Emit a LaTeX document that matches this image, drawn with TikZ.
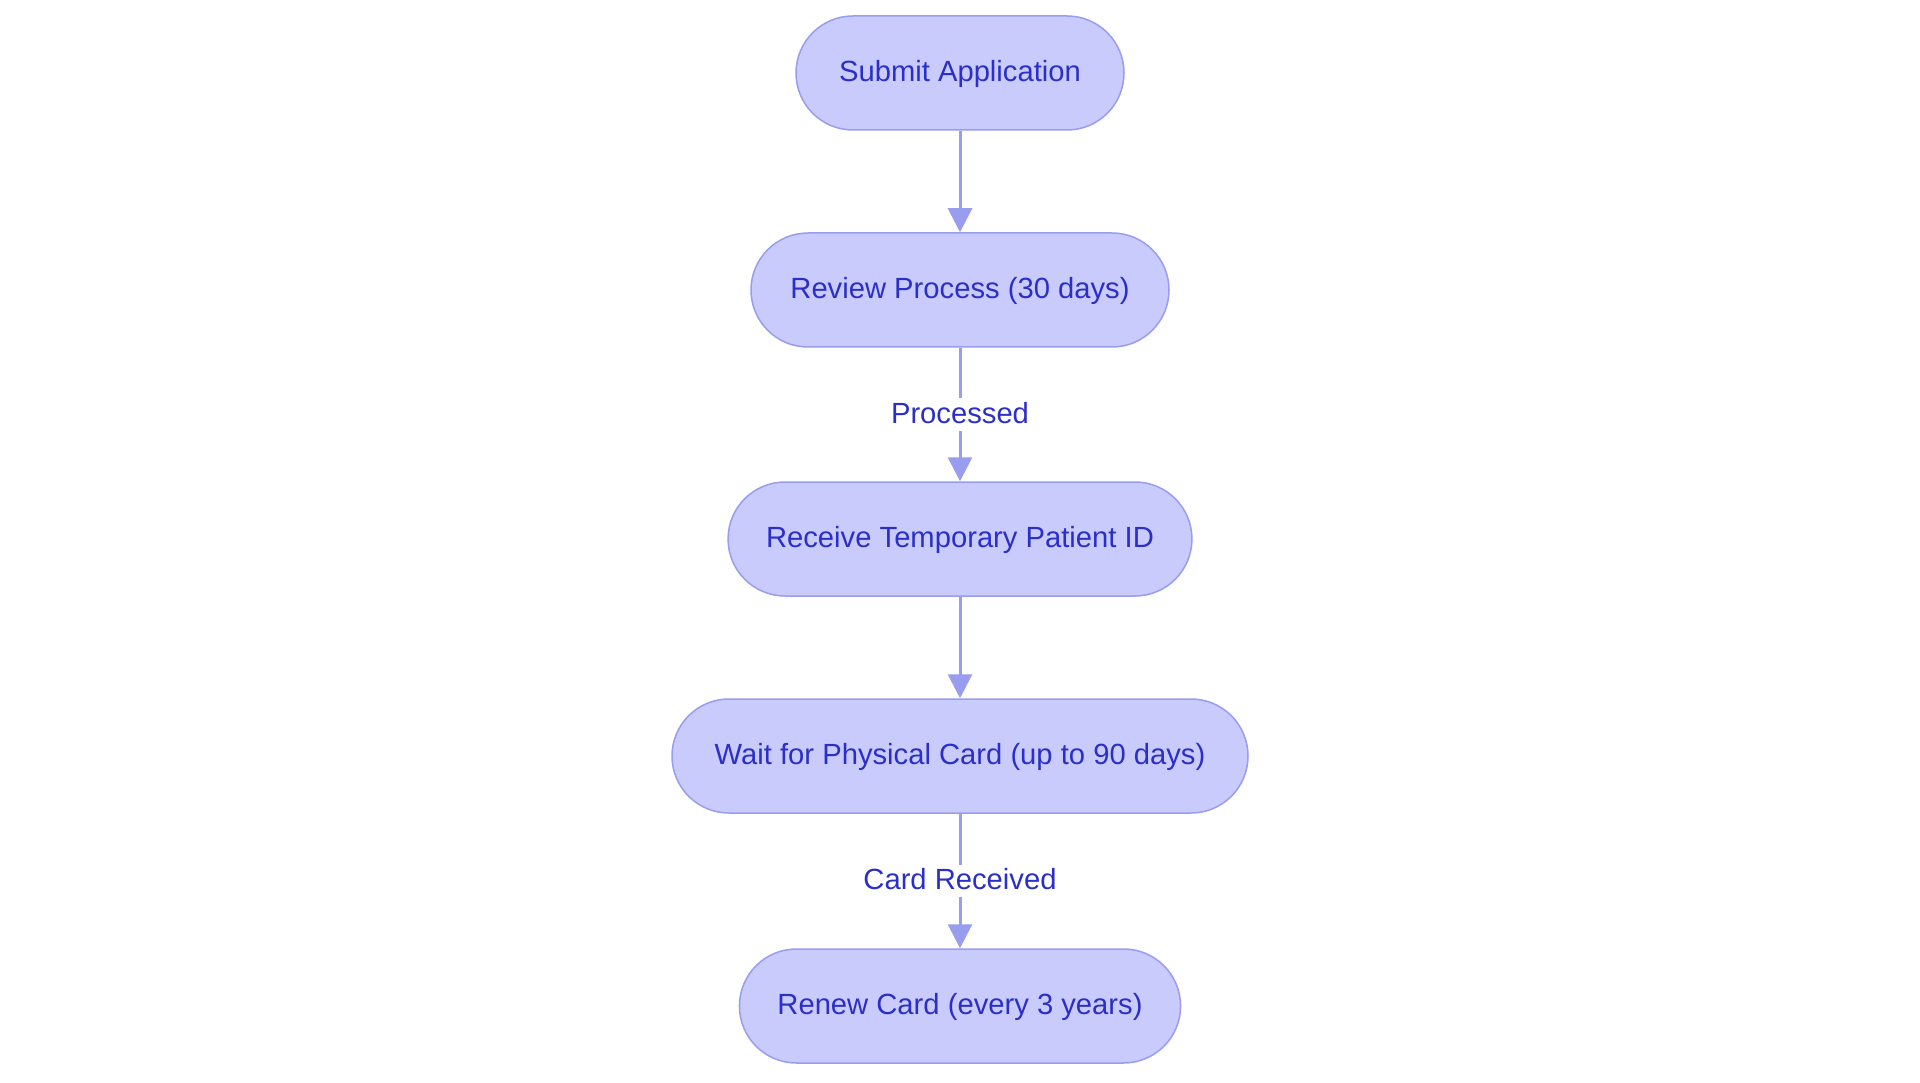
\documentclass[tikz,border=0pt]{standalone}
\usepackage{fontspec}
\setmainfont{Liberation Sans}
\usetikzlibrary{arrows.meta,positioning}

\definecolor{stepfill}{RGB}{201,203,253}
\definecolor{stepline}{RGB}{152,157,240}
\definecolor{steptext}{RGB}{43,47,200}

\tikzset{
  stepbox/.style={draw=stepline,line width=1.5pt,fill=stepfill,text=steptext,
    rounded corners=57pt,minimum height=114pt,inner xsep=38pt,
    text height=22pt,text depth=4.6pt,
    font=\fontsize{29.2}{34}\selectfont},
  flow/.style={draw=stepline,line width=3pt,-{Triangle[width=24pt,length=24pt]}},
  edgetext/.style={fill=white,text=steptext,inner sep=3pt,
    text height=22pt,text depth=4.6pt,
    font=\fontsize{29.2}{34}\selectfont}
}

\begin{document}
\begin{tikzpicture}[x=1pt,y=-1pt]
            % page frame
            \useasboundingbox (0,0) rectangle (1920,1083);

            % steps
            \node[stepbox,minimum width=328pt] (submit) at (960,73) {Submit Application};
            \node[stepbox,minimum width=418pt] (review) at (960,290) {Review Process (30 days)};
            \node[stepbox,minimum width=462pt] (receive) at (960,539) {Receive Temporary Patient ID};
            \node[stepbox,minimum width=576pt] (wait) at (960,756) {Wait for Physical Card (up to 90 days)};
            \node[stepbox,minimum width=440pt] (renew) at (960,1006) {Renew Card (every 3 years)};

            % arrows
            \draw[flow] (submit) -- (review);
            \draw[flow] (review) -- node[edgetext] (processed) {Processed} (receive);
            \draw[flow] (receive) -- (wait);
            \draw[flow] (wait) -- node[edgetext] (received) {Card Received} (renew);

        \end{tikzpicture}
\end{document}
